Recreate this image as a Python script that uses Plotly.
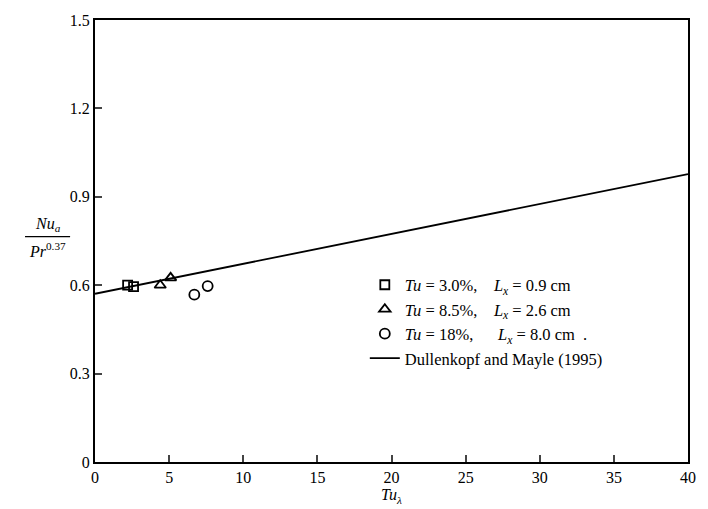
import plotly.graph_objects as go

# Data
sq_x = [2.2, 2.6]
sq_y = [0.600, 0.595]
tri_x = [4.4, 5.1]
tri_y = [0.600, 0.625]
cir_x = [6.7, 7.6]
cir_y = [0.568, 0.597]
corr_x = [0, 40]
corr_y = [0.571, 0.977]

x_ticks = [0, 5, 10, 15, 20, 25, 30, 35, 40]
y_ticks = [0, 0.3, 0.6, 0.9, 1.2, 1.5]
y_tick_text = ["0", "0.3", "0.6", "0.9", "1.2", "1.5"]

FONT = "Liberation Serif, Times New Roman, serif"

fig = go.Figure()
fig.add_trace(go.Scatter(x=sq_x, y=sq_y, mode="markers",
                         marker=dict(symbol="square-open", size=9, color="black", line=dict(width=1.8)),
                         name="<i>Tu</i> = 3.0%,    <i>L<sub>x</sub></i> = 0.9 cm"))
fig.add_trace(go.Scatter(x=tri_x, y=tri_y, mode="markers",
                         marker=dict(symbol="triangle-up-open", size=10, color="black", line=dict(width=1.8)),
                         name="<i>Tu</i> = 8.5%,    <i>L<sub>x</sub></i> = 2.6 cm"))
fig.add_trace(go.Scatter(x=cir_x, y=cir_y, mode="markers",
                         marker=dict(symbol="circle-open", size=10, color="black", line=dict(width=1.8)),
                         name="<i>Tu</i> = 18%,      <i>L<sub>x</sub></i> = 8.0 cm  ."))
fig.add_trace(go.Scatter(x=corr_x, y=corr_y, mode="lines",
                         line=dict(color="black", width=1.8),
                         name="Dullenkopf and Mayle (1995)"))

fig.update_layout(
    width=708, height=509,
    margin=dict(l=95, r=15, t=20, b=46),
    paper_bgcolor="white", plot_bgcolor="white",
    font=dict(family=FONT, size=16, color="black"),
    showlegend=True,
    legend=dict(x=0.455, y=0.44, xanchor="left", yanchor="top",
                bgcolor="rgba(0,0,0,0)", font=dict(family=FONT, size=16.5),
                tracegroupgap=0, itemwidth=30),
)
fig.update_xaxes(range=[0, 40], tickvals=x_ticks, ticks="inside", ticklen=7, tickwidth=1.5,
                 showline=True, linecolor="black", linewidth=2, mirror=True,
                 showgrid=False, zeroline=False, tickfont=dict(family=FONT, size=16),
                 title=dict(text="<i>Tu<sub>λ</sub></i>", font=dict(family=FONT, size=16), standoff=0))
fig.update_yaxes(range=[0, 1.5], tickvals=y_ticks, ticktext=y_tick_text, ticks="inside",
                 ticklen=7, tickwidth=1.5,
                 showline=True, linecolor="black", linewidth=2, mirror=True,
                 showgrid=False, zeroline=False, tickfont=dict(family=FONT, size=16))

# y-axis title as a fraction
fig.add_annotation(xref="paper", yref="paper", x=-0.08, y=0.512, xanchor="center", yanchor="bottom",
                   text="<i>Nu<sub>a</sub></i>", showarrow=False, font=dict(family=FONT, size=16))
fig.add_annotation(xref="paper", yref="paper", x=-0.08, y=0.506, xanchor="center", yanchor="top",
                   text="<i>Pr</i><sup>0.37</sup>", showarrow=False, font=dict(family=FONT, size=16))
fig.add_shape(type="line", xref="paper", yref="paper", x0=-0.118, x1=-0.042, y0=0.51, y1=0.51,
              line=dict(color="black", width=1.3))

fig.write_html("out.html")
